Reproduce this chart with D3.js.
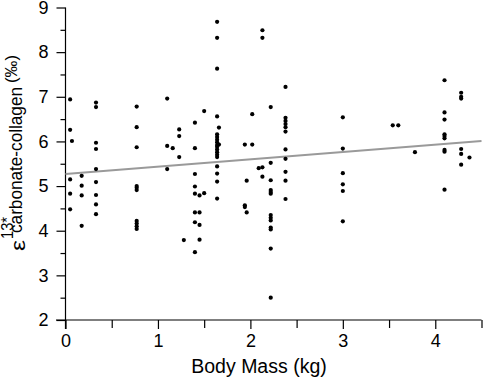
<!DOCTYPE html>
<html><head><meta charset="utf-8">
<script src="https://cdn.jsdelivr.net/npm/d3@7"></script>
<style>body{margin:0;background:#fff}svg{display:block}text{font-family:"Liberation Sans",Arial,sans-serif;fill:#000}</style>
</head><body>
<script>
// Data (body mass kg, epsilon 13* carbonate-collagen ‰)
const massGroups = [0.05,0.07,0.175,0.33,0.77,1.10,1.16,1.23,1.28,1.40,1.45,1.50,1.64,1.66,1.94,1.96,2.02,2.09,2.13,2.22,2.38,3.00,3.54,3.60,3.78,4.10,4.28,4.37];
const epsilonGroups = [
  [6.94,6.26,5.15,4.83,4.48],
  [6.01],
  [5.23,5.01,4.79,4.11],
  [6.87,6.77,5.97,5.83,5.38,5.09,4.80,4.59,4.37],
  [6.78,6.32,5.87,5.00,4.96,4.91,4.22,4.16,4.10,4.04],
  [6.96,5.90,5.38],
  [5.85],
  [6.27,6.12,5.65],
  [3.79],
  [6.42,5.85,5.27,4.99,4.83,4.41,4.19,3.52],
  [4.79,4.41,4.13,3.80],
  [4.84,6.68],
  [8.68,8.32,7.63,6.56,6.16,6.10,6.04,5.98,5.92,5.88,5.82,5.76,5.70,5.65,5.44,5.28,5.10,4.72],
  [6.31,5.93],
  [5.93,4.57,4.53],
  [5.12,4.41],
  [5.93,6.61],
  [5.40],
  [8.49,8.32,5.42,5.21],
  [6.77,5.52,5.13,4.91,4.87,4.83,4.35,4.29,4.23,4.07,4.03,3.60,2.50],
  [7.22,6.53,6.46,6.39,6.32,6.22,5.82,5.61,5.32,5.12,4.71],
  [6.54,5.84,5.29,5.04,4.89,4.21],
  [6.36],
  [6.36],
  [5.76],
  [7.37,6.65,6.49,6.16,6.12,6.07,5.81,5.77,4.92],
  [7.09,7.00,6.96,5.83,5.72,5.48],
  [5.64]
];
const fitX = [0, 4.5];
const fitY = [5.27, 6.01];
const xTicks = [0,1,2,3,4];
const xMinorTicks = [0.5,1.5,2.5,3.5,4.5];
const yTicks = [2,3,4,5,6,7,8,9];
const yMinorTicks = [2.5,3.5,4.5,5.5,6.5,7.5,8.5];

const points = [];
massGroups.forEach((m,i)=>epsilonGroups[i].forEach(v=>points.push({m, v})));

const W=484,H=378;
const svg=d3.select("body").append("svg").attr("width",W).attr("height",H);
const x=d3.scaleLinear().domain([0,4.5]).range([65.5,481.5]);
const y=d3.scaleLinear().domain([2,9]).range([320,7.5]);

// axes
const xAxis=svg.append("g").attr("transform","translate(0,320)");
xAxis.call(d3.axisBottom(x).tickValues(xTicks).tickSize(9).tickFormat(d3.format("d")).tickPadding(5));
xAxis.append("g").call(d3.axisBottom(x).tickValues(xMinorTicks).tickSize(8).tickFormat(""));
xAxis.selectAll(".domain").remove();
xAxis.append("line").attr("x1",56).attr("x2",x(4.5)).attr("stroke","#000").attr("stroke-width",1.2);

const yAxis=svg.append("g").attr("transform","translate(65.5,0)");
yAxis.call(d3.axisLeft(y).tickValues(yTicks).tickSize(9).tickFormat(d3.format("d")).tickPadding(8));
yAxis.append("g").call(d3.axisLeft(y).tickValues(yMinorTicks).tickSize(5).tickFormat(""));
yAxis.selectAll(".domain").remove();
yAxis.append("line").attr("y1",y(9)).attr("y2",329).attr("stroke","#000").attr("stroke-width",1.2);

svg.selectAll(".tick line").attr("stroke","#000").attr("stroke-width",1.2);
svg.selectAll(".tick text").attr("font-size",18).attr("font-family","Liberation Sans, Arial, sans-serif").attr("fill","#000");

// fit line
svg.append("line").attr("x1",x(fitX[0])).attr("y1",y(fitY[0])).attr("x2",x(fitX[1])).attr("y2",y(fitY[1]))
  .attr("stroke","#9a9a9a").attr("stroke-width",2);

// points
svg.append("g").selectAll("circle").data(points).join("circle")
  .attr("cx",d=>x(d.m)).attr("cy",d=>y(d.v)).attr("r",2.1).attr("fill","#000");

// x label
svg.append("text").attr("x",259).attr("y",373).attr("text-anchor","middle").attr("font-size",19.5).text("Body Mass (kg)");

// y label (rotated): u along text (screen y = -u), v = screen x
const g=svg.append("g").attr("transform","rotate(-90)");
g.append("text").attr("x",-251).attr("y",25).attr("font-size",20)
  .attr("textLength",11).attr("lengthAdjust","spacingAndGlyphs").text("ε");
g.append("text").attr("x",-239).attr("y",13).attr("font-size",17)
  .attr("textLength",22).attr("lengthAdjust","spacingAndGlyphs").text("13*");
g.append("text").attr("x",-233).attr("y",22).attr("font-size",18)
  .attr("textLength",146).attr("lengthAdjust","spacingAndGlyphs").text("carbonate-collagen");
g.append("text").attr("x",-83).attr("y",17).attr("font-size",17)
  .attr("textLength",28).attr("lengthAdjust","spacingAndGlyphs").text("(‰)");
</script>
</body></html>
